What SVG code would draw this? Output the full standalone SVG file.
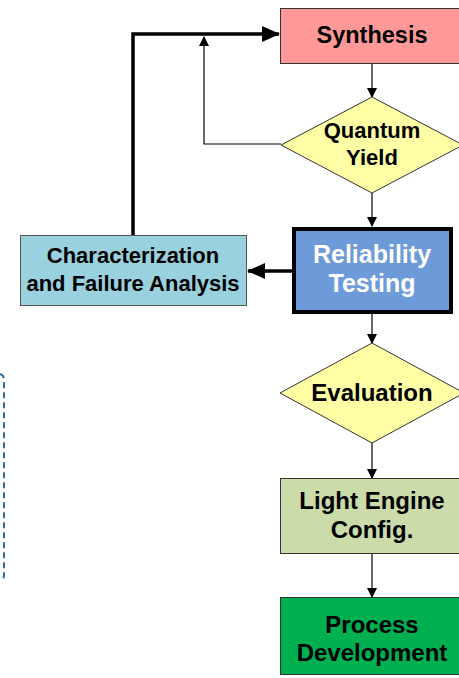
<svg xmlns="http://www.w3.org/2000/svg" width="459" height="678" viewBox="0 0 459 678">
<defs>
<style>
text{font-family:"Liberation Sans",Arial,sans-serif;font-weight:bold;text-anchor:middle;fill:#000}
.box{stroke:#333;stroke-width:1}
.thin{stroke:#000;stroke-width:1.2;fill:none}
.thick{stroke:#000;stroke-width:3.5;fill:none}
</style>
<marker id="ah" markerWidth="10" markerHeight="10" refX="9" refY="5" orient="auto" markerUnits="userSpaceOnUse">
<path d="M0,0 L10,5 L0,10 z" fill="#000"/>
</marker>
<marker id="ahb" markerWidth="18" markerHeight="16" refX="17" refY="8" orient="auto" markerUnits="userSpaceOnUse">
<path d="M0,0 L18,8 L0,16 z" fill="#000"/>
</marker>
</defs>
<rect width="459" height="678" fill="#fff"/>
<path d="M0,374 Q4,375 4,380 V575 Q4,580 0,580" fill="none" stroke="#2E6CA4" stroke-width="2" stroke-dasharray="6,4"/>
<g id="connectors">
<line class="thin" x1="372" y1="63" x2="372" y2="97" marker-end="url(#ah)"/>
<polyline class="thin" points="281,144 204,144 204,37" marker-end="url(#ah)"/>
<line class="thin" x1="372" y1="193" x2="372" y2="226" marker-end="url(#ah)"/>
<polyline class="thick" points="133,235 133,34 279,34" marker-end="url(#ahb)"/>
<line class="thick" x1="292" y1="271" x2="248" y2="271" marker-end="url(#ahb)"/>
<line class="thin" x1="372" y1="314" x2="372" y2="343" marker-end="url(#ah)"/>
<line class="thin" x1="372" y1="443" x2="372" y2="478" marker-end="url(#ah)"/>
<line class="thin" x1="372" y1="554" x2="372" y2="597" marker-end="url(#ah)"/>
</g>
<g id="synthesis">
<rect class="box" x="280.5" y="8.5" width="184" height="55" fill="#FF9999"/>
<text x="372" y="43" font-size="23.5">Synthesis</text>
</g>
<g id="quantum-yield">
<polygon class="box" points="372,97 463,145 372,193 281,145" fill="#FFFFA6"/>
<text x="372" y="138" font-size="22">Quantum</text>
<text x="372" y="165" font-size="22">Yield</text>
</g>
<g id="characterization">
<rect x="20.5" y="235.5" width="226" height="70" fill="#99D1DF" stroke="#555" stroke-width="1"/>
<text x="133" y="263" font-size="22">Characterization</text>
<text x="133" y="291" font-size="22">and Failure Analysis</text>
</g>
<g id="reliability">
<rect x="294" y="229" width="157" height="83" fill="#6D9AD8" stroke="#000" stroke-width="4"/>
<text x="372" y="263" font-size="25" style="fill:#fff">Reliability</text>
<text x="372" y="292" font-size="25" style="fill:#fff">Testing</text>
</g>
<g id="evaluation">
<polygon class="box" points="372,343 464,393 372,443 280,393" fill="#FFFFA6"/>
<text x="372" y="401" font-size="24">Evaluation</text>
</g>
<g id="light-engine">
<rect class="box" x="280.5" y="478.5" width="184" height="75" fill="#CBDBAA"/>
<text x="372" y="509" font-size="24">Light Engine</text>
<text x="372" y="538" font-size="24">Config.</text>
</g>
<g id="process">
<rect class="box" x="280.5" y="597.5" width="184" height="77" fill="#00B050"/>
<text x="372" y="633" font-size="24">Process</text>
<text x="372" y="661" font-size="24">Development</text>
</g>
</svg>
